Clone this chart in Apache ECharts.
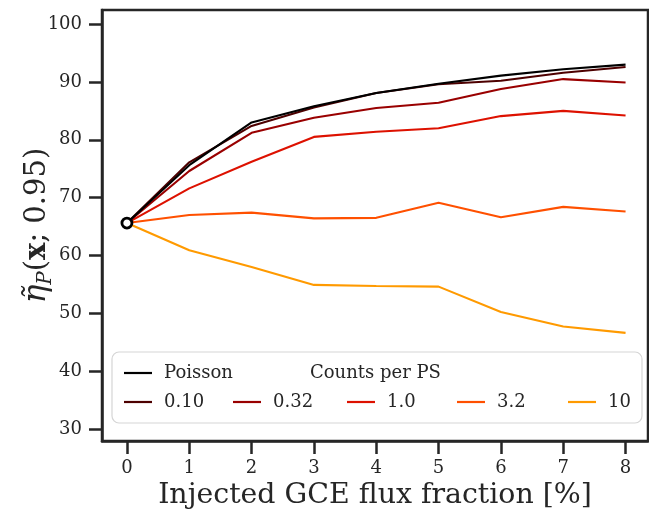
<!DOCTYPE html>
<html>
<head>
<meta charset="utf-8">
<script src="https://cdn.jsdelivr.net/npm/echarts@6/dist/echarts.min.js"></script>
<style>html,body{margin:0;padding:0;background:#fff;}#c{width:649px;height:514px;}</style>
</head>
<body>
<div id="c"></div>
<script>
const fractions = [0, 1, 2, 3, 4, 5, 6, 7, 8];
const poisson = [65.6, 75.6, 83.0, 85.8, 88.1, 89.7, 91.1, 92.2, 93.0];
const cps010  = [65.6, 76.1, 82.4, 85.6, 88.1, 89.6, 90.2, 91.6, 92.6];
const cps032  = [65.6, 74.6, 81.2, 83.8, 85.5, 86.4, 88.8, 90.5, 89.9];
const cps1    = [65.6, 71.6, 76.2, 80.5, 81.4, 82.0, 84.1, 85.0, 84.2];
const cps32   = [65.6, 67.0, 67.4, 66.4, 66.5, 69.1, 66.6, 68.4, 67.6];
const cps10   = [65.6, 60.9, 58.0, 54.9, 54.7, 54.6, 50.2, 47.7, 46.6];
const xTicks = [0, 1, 2, 3, 4, 5, 6, 7, 8];
const yTicks = [30, 40, 50, 60, 70, 80, 90, 100];

const seriesDefs = [
  {name: '10', data: cps10, color: '#ff9a00'},
  {name: '3.2', data: cps32, color: '#ff5000'},
  {name: '1.0', data: cps1, color: '#dd1100'},
  {name: '0.32', data: cps032, color: '#990000'},
  {name: '0.10', data: cps010, color: '#4d0000'},
  {name: 'Poisson', data: poisson, color: '#000000'}
];

const FONT = '"DejaVu Serif", serif';
const INK = '#262626';

const series = seriesDefs.map((s) => ({
  name: s.name,
  type: 'line',
  data: fractions.map((x, j) => [x, s.data[j]]),
  showSymbol: false,
  symbol: 'none',
  lineStyle: {color: s.color, width: 2.1},
  itemStyle: {color: s.color},
  z: 2,
  animation: false
}));
series.push({
  type: 'scatter',
  data: [[fractions[0], poisson[0]]],
  symbolSize: 10,
  itemStyle: {color: '#ffffff', borderColor: '#000000', borderWidth: 2.8, opacity: 1},
  z: 3,
  animation: false
});

const legendPos = [
  {name: 'Poisson', left: 124, top: 363},
  {name: '0.10', left: 124, top: 392},
  {name: '0.32', left: 233, top: 392},
  {name: '1.0', left: 347, top: 392},
  {name: '3.2', left: 457, top: 392},
  {name: '10', left: 568, top: 392}
];
const legends = legendPos.map(l => ({
  data: [l.name],
  left: l.left, top: l.top,
  padding: 0,
  z: 20,
  icon: 'rect',
  itemWidth: 28, itemHeight: 2.2,
  selectedMode: false,
  textStyle: {fontFamily: FONT, fontSize: 18, color: INK, lineHeight: 20, padding: [0, 0, 0, 7]}
}));

const axisCommon = {
  axisLine: {show: true, onZero: false, lineStyle: {color: INK, width: 2.5}},
  splitLine: {show: false},
  nameMoveOverlap: false
};

const chart = echarts.init(document.getElementById('c'), null, {renderer: 'canvas'});
chart.setOption({
  animation: false,
  backgroundColor: '#ffffff',
  grid: {left: 102, top: 10, right: 1, bottom: 73, outerBoundsMode: 'none', containLabel: false, show: true, borderColor: INK, borderWidth: 2.5, backgroundColor: 'transparent'},
  xAxis: Object.assign({}, axisCommon, {
    type: 'value', min: -0.4, max: 8.36,
    axisTick: {show: true, length: 13, lineStyle: {color: INK, width: 2.5}, customValues: xTicks},
    axisLabel: {fontFamily: FONT, fontSize: 18, color: INK, margin: 18, customValues: xTicks},
    name: 'Injected GCE flux fraction [%]',
    nameLocation: 'middle', nameGap: 41,
    nameTextStyle: {fontFamily: FONT, fontSize: 28.4, color: INK}
  }),
  yAxis: Object.assign({}, axisCommon, {
    type: 'value', min: 27.9, max: 102.45,
    axisTick: {show: true, length: 13, lineStyle: {color: INK, width: 2.5}, customValues: yTicks},
    axisLabel: {fontFamily: FONT, fontSize: 18, color: INK, margin: 20, customValues: yTicks},
    name: '{eta|η\u0303}{sub|P}{n|(}{b|x}{n|; 0.95)}',
    nameLocation: 'middle', nameGap: 46, nameRotate: 90,
    nameTextStyle: {
      fontFamily: FONT, fontSize: 29, color: INK,
      rich: {
        eta: {fontFamily: FONT, fontSize: 31, fontStyle: 'italic', color: INK, lineHeight: 38, verticalAlign: 'middle'},
        sub: {fontFamily: FONT, fontSize: 20, fontStyle: 'italic', color: INK, lineHeight: 17, verticalAlign: 'bottom'},
        n: {fontFamily: FONT, fontSize: 29, color: INK, lineHeight: 38, verticalAlign: 'middle'},
        b: {fontFamily: FONT, fontSize: 29, fontWeight: 'bold', color: INK, lineHeight: 38, verticalAlign: 'middle'}
      }
    }
  }),
  legend: legends,
  graphic: [
    {type: 'rect', shape: {x: 112, y: 352, width: 530, height: 71, r: 7}, style: {fill: 'rgba(255,255,255,0.8)', stroke: '#d5d5d5', lineWidth: 1.2}, z: 5},
    {type: 'text', x: 310, y: 373, style: {text: 'Counts per PS', fontFamily: FONT, fontSize: 18, fill: INK, verticalAlign: 'middle'}, z: 20}
  ],
  series: series
});
</script>
</body>
</html>
